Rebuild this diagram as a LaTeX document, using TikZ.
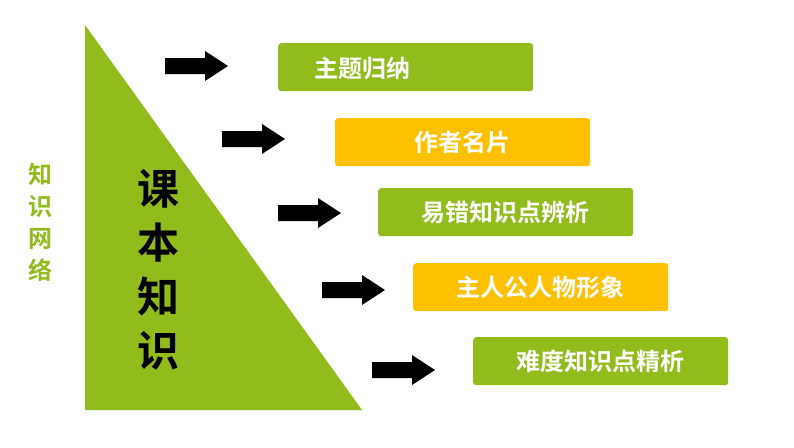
\documentclass[tikz,border=0pt]{standalone}
\usepackage{fontspec}
\setmainfont{Noto Sans CJK SC}
\newfontfamily\cjkb{Noto Sans CJK SC Bold}
\definecolor{gr}{HTML}{92BC1C}
\definecolor{og}{HTML}{FFC000}
\newcommand\myblkarr[2]{\fill[black] (#1,#2-8) -- (#1+40,#2-8) -- (#1+40,#2-15) -- (#1+63,#2) -- (#1+40,#2+15) -- (#1+40,#2+8) -- (#1,#2+8) -- cycle;}
\begin{document}
\begin{tikzpicture}[x=1pt,y=-1pt,
 box/.style={rounded corners=3pt,minimum width=255pt,minimum height=48pt,text=white,font=\cjkb\fontsize{24}{24}\selectfont,anchor=north west,inner sep=0pt}]
\useasboundingbox[fill=white] (0,0) rectangle (794,447);
\fill[gr] (85,25) -- (85,410) -- (362,410) -- cycle;
\node[text=gr,font=\cjkb\fontsize{24}{32}\selectfont,align=center] (kw) at (40,222) {知\\识\\网\\络};
\node[font=\cjkb\fontsize{42}{54}\selectfont,align=center] (kb) at (158,270) {课\\本\\知\\识};
\node[box,fill=gr] (b1) at (278,43) {};
\node[text=white,font=\cjkb\fontsize{24}{24}\selectfont] at (362,68) {主题归纳};
\node[box,fill=og] (b2) at (335,118) {作者名片};
\node[box,fill=gr] (b3) at (378,188) {易错知识点辨析};
\node[box,fill=og] (b4) at (413,263) {主人公人物形象};
\node[box,fill=gr] (b5) at (473,337) {难度知识点精析};
\myblkarr{165}{66}
\myblkarr{222}{139}
\myblkarr{278}{213}
\myblkarr{322}{290}
\myblkarr{372}{370}
\end{tikzpicture}
\end{document}
